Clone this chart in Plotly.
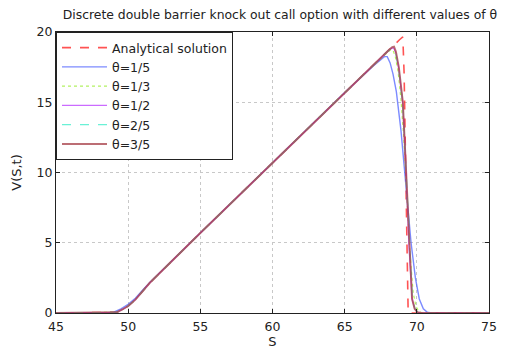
import plotly.graph_objects as go

# ---- data ----
S_analytical = [45, 48.7, 49.2, 49.6, 50.0, 50.5, 51.0, 51.5, 55, 60, 65, 68.0, 68.8, 69.03, 69.12, 69.2, 69.28, 69.35, 69.4, 75]
V_analytical = [0, 0, 0.05, 0.25, 0.5, 0.95, 1.55, 2.15, 5.7, 10.7, 15.7, 18.7, 19.45, 19.65, 17.0, 12.0, 6.0, 1.5, 0, 0]

S_t15 = [45, 48.5, 49.0, 49.5, 50.0, 50.5, 51.0, 51.5, 55, 60, 65, 67.0, 67.5, 67.75, 67.95, 68.15, 68.35, 68.58, 68.9, 69.15, 69.4, 69.6, 69.9, 70.17, 70.45, 70.73, 71.0, 75]
V_t15 = [0, 0, 0.06, 0.3, 0.62, 1.05, 1.62, 2.18, 5.7, 10.7, 15.7, 17.6, 18.05, 18.25, 18.25, 17.8, 17.0, 15.75, 13.0, 10.0, 7.3, 5.0, 2.5, 1.0, 0.3, 0.05, 0, 0]

S_t13 = [45, 48.7, 49.2, 49.6, 50.0, 50.5, 51.0, 51.5, 55, 60, 65, 67.6, 68.0, 68.2, 68.35, 68.5, 68.7, 68.9, 69.1, 69.3, 69.5, 69.75, 69.95, 70.15, 70.4, 75]
V_t13 = [0, 0, 0.05, 0.25, 0.5, 0.95, 1.55, 2.15, 5.7, 10.7, 15.7, 18.2, 18.6, 18.75, 18.7, 18.3, 17.2, 15.2, 12.4, 8.4, 4.6, 1.4, 0.45, 0.1, 0, 0]

S_t12 = [45, 48.7, 49.2, 49.6, 50.0, 50.5, 51.0, 51.5, 55, 60, 65, 67.6, 68.0, 68.25, 68.4, 68.55, 68.75, 69.03, 69.26, 69.44, 69.67, 69.85, 70.05, 70.3, 75]
V_t12 = [0, 0, 0.05, 0.25, 0.5, 0.95, 1.55, 2.15, 5.7, 10.7, 15.7, 18.25, 18.65, 18.85, 18.85, 18.5, 17.4, 14.9, 10.0, 5.0, 1.0, 0.3, 0.05, 0, 0]

S_t25 = [45, 48.7, 49.2, 49.6, 50.0, 50.5, 51.0, 51.5, 55, 60, 65, 67.6, 68.0, 68.25, 68.4, 68.55, 68.75, 69.03, 69.27, 69.46, 69.7, 69.88, 70.08, 70.3, 75]
V_t25 = [0, 0, 0.05, 0.25, 0.5, 0.95, 1.55, 2.15, 5.7, 10.7, 15.7, 18.25, 18.65, 18.85, 18.8, 18.45, 17.3, 14.8, 9.9, 5.0, 1.0, 0.3, 0.05, 0, 0]

S_t35 = [45, 48.7, 49.2, 49.6, 50.0, 50.5, 51.0, 51.5, 55, 60, 65, 67.7, 68.1, 68.3, 68.42, 68.55, 68.75, 69.03, 69.26, 69.44, 69.67, 69.85, 70.05, 70.3, 75]
V_t35 = [0, 0, 0.05, 0.25, 0.5, 0.95, 1.55, 2.15, 5.7, 10.7, 15.7, 18.35, 18.75, 18.92, 18.95, 18.6, 17.5, 15.0, 10.0, 5.0, 1.0, 0.3, 0.05, 0, 0]

x_ticks = [45, 50, 55, 60, 65, 70, 75]
y_ticks = [0, 5, 10, 15, 20]

series = [
    ("Analytical solution", S_analytical, V_analytical, "rgba(255,40,40,0.8)", 1.6, "dash"),
    ("θ=1/5", S_t15, V_t15, "rgba(80,100,255,0.75)", 1.4, "solid"),
    ("θ=1/3", S_t13, V_t13, "rgba(170,240,80,0.9)", 1.2, "dot"),
    ("θ=1/2", S_t12, V_t12, "rgba(190,70,255,0.8)", 1.2, "solid"),
    ("θ=2/5", S_t25, V_t25, "rgba(90,240,210,0.9)", 1.2, "dash"),
    ("θ=3/5", S_t35, V_t35, "rgba(165,60,70,0.75)", 2.0, "solid"),
]

fig = go.Figure()
for name, xs, ys, col, w, dash in series:
    fig.add_trace(go.Scatter(x=xs, y=ys, mode="lines", name=name,
                             line=dict(color=col, width=w, dash=dash)))

font = "DejaVu Sans, Verdana, sans-serif"
axis_common = dict(showline=True, linecolor="#222", linewidth=1, mirror="ticks",
                   ticks="inside", ticklen=4, tickcolor="#222",
                   showgrid=True, gridcolor="#c8c8c8", griddash="dot", gridwidth=1,
                   zeroline=False, ticklabeloverflow="allow", automargin=False,
                   tickfont=dict(size=12.5, color="#222", family=font))

# page body has an 8px margin, so the figure is sized/placed to compensate
fig.update_layout(
    width=498, height=344,
    margin=dict(l=48, r=17, t=24, b=39),
    paper_bgcolor="white", plot_bgcolor="white",
    font=dict(family=font, color="#222", size=12),
    title=dict(text="Discrete double barrier knock out call option with different values of θ",
               x=0.546, xanchor="center", y=1 - 2.5 / 344, yanchor="top",
               font=dict(size=12.4, color="#222", family=font)),
    xaxis=dict(range=[45, 75], tickvals=x_ticks, ticklabelstandoff=2,
               title=dict(text="S", standoff=3, font=dict(size=13)), **axis_common),
    yaxis=dict(range=[0, 20], tickvals=y_ticks,
               title=dict(text="V(S,t)", standoff=12, font=dict(size=13)), **axis_common),
    legend=dict(x=0.0, y=1.0, xanchor="left", yanchor="top", bgcolor="white",
                bordercolor="#222", borderwidth=1, font=dict(size=12.5, family=font),
                itemwidth=45, tracegroupgap=0),
    showlegend=True,
)

fig.write_html("out.html")
